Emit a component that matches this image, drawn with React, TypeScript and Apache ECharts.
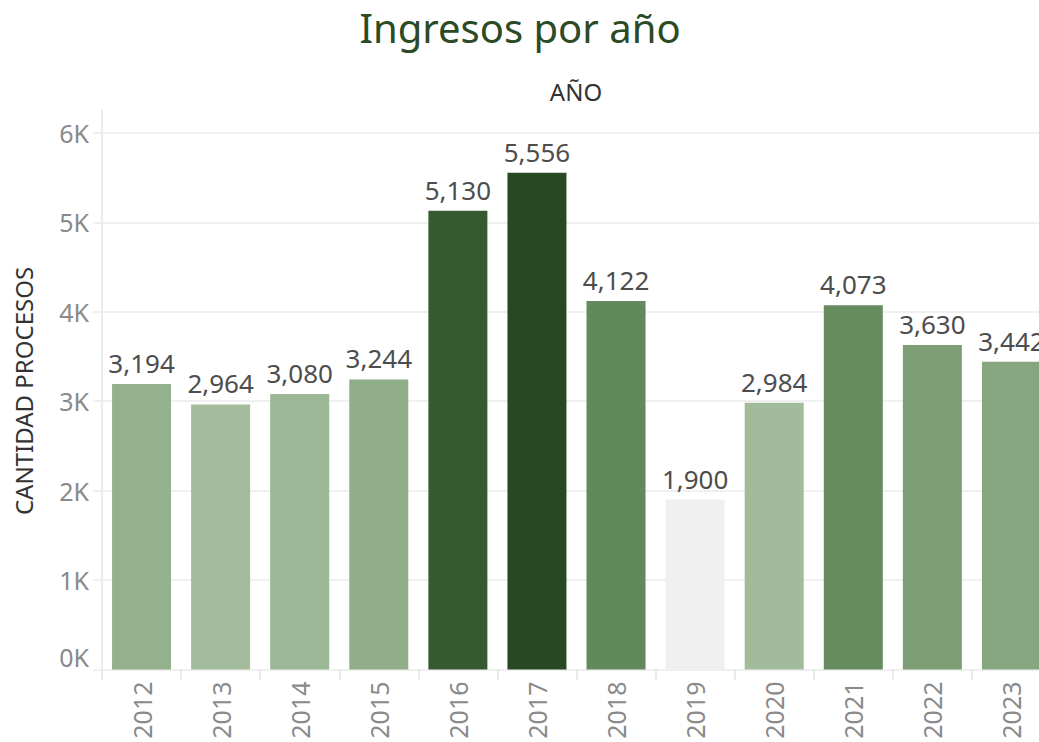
import React, { useEffect, useRef } from "react";
import * as echarts from "echarts";

const years = ["2012", "2013", "2014", "2015", "2016", "2017", "2018", "2019", "2020", "2021", "2022", "2023"];
const cantidad = [3194, 2964, 3080, 3244, 5130, 5556, 4122, 1900, 2984, 4073, 3630, 3442];
const yTicks = [0, 1000, 2000, 3000, 4000, 5000, 6000];

const FONT = "'Noto Sans', sans-serif";

export default function App() {
  const ref = useRef<HTMLDivElement>(null);
  useEffect(() => {
    document.body.style.margin = "0";
    document.body.style.overflow = "hidden";
    const chart = echarts.init(ref.current!, null, { renderer: "svg" });
    chart.setOption({
      animation: false,
      backgroundColor: "#ffffff",
      textStyle: { fontFamily: FONT },
      graphic: [
        {
          type: "text",
          x: 520,
          y: 27,
          style: { text: "Ingresos por año", font: `40px ${FONT}`, fill: "#2b4a25", textAlign: "center", textVerticalAlign: "middle" },
        },
        {
          type: "text",
          x: 576,
          y: 91,
          style: { text: "AÑO", font: `24px ${FONT}`, fill: "#333333", textAlign: "center", textVerticalAlign: "middle" },
        },
        {
          type: "text",
          x: 23,
          y: 391,
          rotation: Math.PI / 2,
          style: { text: "CANTIDAD PROCESOS", font: `24px ${FONT}`, fill: "#333333", textAlign: "center", textVerticalAlign: "middle" },
        },
      ],
      visualMap: {
        show: false,
        type: "continuous",
        dimension: 1,
        min: Math.min(...cantidad),
        max: Math.max(...cantidad),
        inRange: {
          color: ["#f0f0f0", "#c9d8c6", "#abc4a6", "#8fad89", "#78996f", "#5f8658", "#4a7043", "#375b31", "#284823"],
        },
      },
      grid: { left: 102, right: 0, top: 110, bottom: 72.5, containLabel: false },
      xAxis: {
        type: "category",
        data: years,
        boundaryGap: true,
        axisLine: { show: false },
        axisTick: { show: true, length: 10, lineStyle: { color: "#e8e8e8", width: 2 } },
        axisLabel: { rotate: 90, margin: 12, fontSize: 25, color: "#8a8a8a", fontFamily: FONT },
      },
      yAxis: {
        type: "value",
        min: 0,
        max: 6257,
        interval: 1000,
        axisLine: { show: true, lineStyle: { color: "#ececec", width: 2 } },
        axisTick: { show: true, length: 9, lineStyle: { color: "#f0f0f0", width: 2 } },
        axisLabel: {
          fontSize: 25,
          color: "#8a8a8a",
          margin: 13,
          fontFamily: FONT,
          showMaxLabel: false,
          verticalAlignMinLabel: "bottom",
          formatter: (v: number) => (yTicks.includes(v) ? `${v / 1000}K` : ""),
        },
        splitLine: { show: true, showMaxLine: false, lineStyle: { color: "#f0f0f0", width: 2 } },
      },
      series: [
        {
          type: "bar",
          data: years.map((y, i) => [y, cantidad[i]]),
          barWidth: 59,
          label: {
            show: true,
            position: "top",
            distance: 8,
            fontSize: 26,
            color: "#4d4d4d",
            fontFamily: FONT,
            formatter: (p: any) => p.value[1].toLocaleString("en-US"),
          },
        },
      ],
    });
    return () => chart.dispose();
  }, []);
  return (
    <div style={{ width: 1039, height: 742, overflow: "hidden", position: "relative" }}>
      <div ref={ref} style={{ width: 1051, height: 742 }} />
    </div>
  );
}
